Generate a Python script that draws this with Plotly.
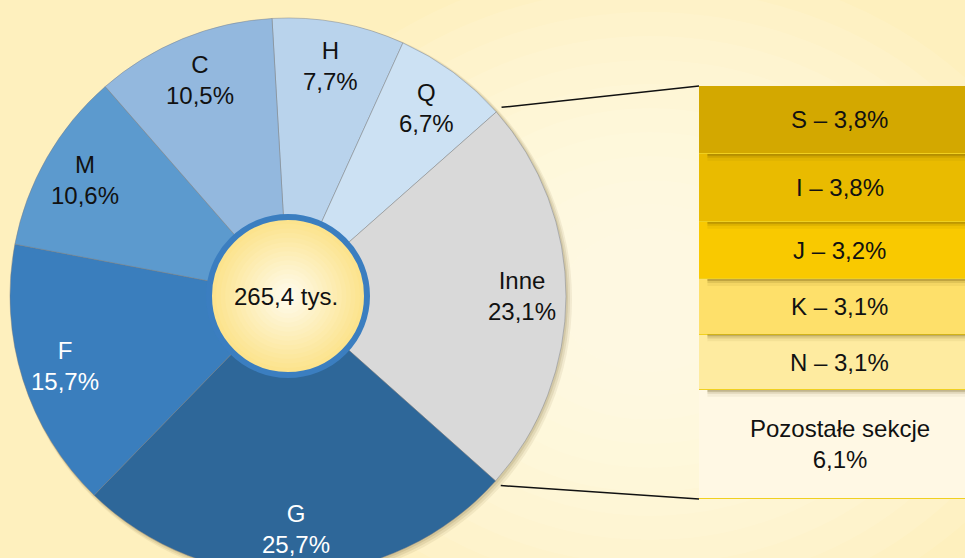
import math
import plotly.graph_objects as go

W, H = 965, 575

# ---------------- data ----------------
pie_labels = ["H", "Q", "Inne", "G", "F", "M", "C"]
pie_values = [7.7, 6.7, 23.1, 25.7, 15.7, 10.6, 10.5]
pie_colors = ["#B9D3EC", "#CCE1F3", "#D9D9D9", "#2E6799", "#3A7EBD", "#5C9ACE", "#93B8DE"]
pie_text_colors = ["#111111", "#111111", "#111111", "#FFFFFF", "#FFFFFF", "#111111", "#111111"]
total_label = "265,4 tys."

bar_labels = ["S", "I", "J", "K", "N", "Pozostałe sekcje"]
bar_values = [3.8, 3.8, 3.2, 3.1, 3.1, 6.1]
bar_colors = ["#D3A800", "#E9BB00", "#F9C900", "#FEE06A", "#FEEBA0", "#FFF8E4"]

FONT = "Liberation Sans, Arial, sans-serif"
FS = 24


def pct(v):
    return f"{v:.1f}%".replace(".", ",")


def px(x):
    return x / W


def py(y):
    return 1 - y / H


# ---------------- geometry ----------------
cx, cy, R = 288, 296, 278
hole_r = 80
rotation = -3.3
bar_left, bar_top, bar_bottom, bar_right_virtual = 699, 86, 499, 980

fig = go.Figure()

# background glow
shapes = []
for k in range(12):
    rr = 420 - k * 30
    shapes.append(dict(type="circle", xref="paper", yref="paper", layer="below",
                       x0=px(650 - rr), x1=px(650 + rr), y0=py(300 + rr * 0.8), y1=py(300 - rr * 0.8),
                       fillcolor="rgba(255,252,242,0.12)", line=dict(width=0)))
# pie soft shadow
for d, op in [(6, 0.10), (4, 0.14), (2, 0.18)]:
    shapes.append(dict(type="circle", xref="paper", yref="paper", layer="below",
                       x0=px(cx - R + 1), x1=px(cx + R + d), y0=py(cy + R + d), y1=py(cy - R + 1),
                       fillcolor=f"rgba(140,120,70,{op})", line=dict(width=0)))

fig.add_trace(go.Pie(
    labels=pie_labels, values=pie_values, sort=False, direction="clockwise",
    rotation=rotation, hole=hole_r / R, textinfo="none", hoverinfo="label+percent",
    marker=dict(colors=pie_colors, line=dict(color="rgba(120,125,130,0.45)", width=1)),
    domain=dict(x=[px(cx - R), px(cx + R)], y=[py(cy + R), py(cy - R)]),
    showlegend=False,
))

# pie labels
tot = sum(pie_values)
cum = 0
annotations = []
for lab, v, tc in zip(pie_labels, pie_values, pie_text_colors):
    mid = rotation + (cum + v / 2) / tot * 360
    cum += v
    rr = R * 0.84
    x = cx + rr * math.sin(math.radians(mid))
    y = cy - rr * math.cos(math.radians(mid))
    annotations.append(dict(xref="paper", yref="paper", x=px(x), y=py(y), showarrow=False,
                            text=f"{lab}<br>{pct(v)}", font=dict(family=FONT, size=FS, color=tc),
                            xanchor="center", yanchor="middle"))

# stacked bar
for lab, v, c in zip(bar_labels, bar_values, bar_colors):
    fig.add_trace(go.Bar(x=[0], y=[v], width=1, marker=dict(color=c, line=dict(color="#F0D020", width=1)),
                         name=lab, showlegend=False, hoverinfo="name+y"))

bar_total = sum(bar_values)
cum = 0
for i, (lab, v) in enumerate(zip(bar_labels, bar_values)):
    if lab.startswith("Pozosta"):
        t = f"{lab}<br>{pct(v)}"
    else:
        t = f"{lab} – {pct(v)}"
    annotations.append(dict(xref="x", yref="y", x=0, y=cum + v / 2, text=t, showarrow=False,
                            xanchor="center", yanchor="middle",
                            font=dict(family=FONT, size=FS, color="#111111")))
    cum += v
    # drop shadow cast by the segment above onto the next one
    if i < len(bar_values) - 1:
        for d, op in [(0.10, 0.24), (0.22, 0.13), (0.38, 0.06)]:
            shapes.append(dict(type="rect", xref="x", yref="y", layer="above",
                               x0=-0.47, x1=0.6, y0=cum, y1=cum + d,
                               fillcolor=f"rgba(90,70,0,{op})", line=dict(width=0)))
# shadow under the last segment
for d, op in [(0.10, 0.22), (0.22, 0.12), (0.36, 0.06)]:
    shapes.append(dict(type="rect", xref="x", yref="y", layer="below",
                       x0=-0.47, x1=0.6, y0=bar_total, y1=bar_total + d,
                       fillcolor=f"rgba(90,70,0,{op})", line=dict(width=0)))

annotations.append(dict(xref="paper", yref="paper", x=px(cx - 2), y=py(cy), text=total_label, showarrow=False,
                        xanchor="center", yanchor="middle",
                        font=dict(family=FONT, size=FS, color="#111111")))

# leader lines
inne_idx = pie_labels.index("Inne")
a_start = rotation + sum(pie_values[:inne_idx]) / tot * 360
a_end = a_start + pie_values[inne_idx] / tot * 360
for a, by in [(a_start, bar_top), (a_end, bar_bottom)]:
    r2 = R * 1.025
    x0 = cx + r2 * math.sin(math.radians(a))
    y0 = cy - r2 * math.cos(math.radians(a))
    shapes.append(dict(type="line", xref="paper", yref="paper", x0=px(x0), y0=py(y0), x1=px(bar_left), y1=py(by),
                       line=dict(color="#111111", width=1.5), layer="above"))

# centre circle with radial gradient
n = 18
c_edge = (252, 226, 135)
c_mid = (255, 252, 238)
for i in range(n):
    f = i / (n - 1)
    rr = (hole_r + 1) * (1 - f) + 4 * f
    col = tuple(int(c_edge[k] + (c_mid[k] - c_edge[k]) * f) for k in range(3))
    shapes.append(dict(type="circle", xref="paper", yref="paper", layer="above",
                       x0=px(cx - rr), x1=px(cx + rr), y0=py(cy + rr), y1=py(cy - rr),
                       fillcolor=f"rgb{col}", line=dict(width=0)))
shapes.append(dict(type="circle", xref="paper", yref="paper", layer="above",
                   x0=px(cx - hole_r + 1), x1=px(cx + hole_r - 1), y0=py(cy + hole_r - 1), y1=py(cy - hole_r + 1),
                   line=dict(color="#3B7EC0", width=6)))

fig.update_layout(
    width=W, height=H, margin=dict(l=0, r=0, t=0, b=0),
    paper_bgcolor="#FEF0BE", plot_bgcolor="rgba(0,0,0,0)",
    barmode="stack", bargap=0,
    xaxis=dict(domain=[px(bar_left), 1], range=[-0.5, -0.5 + (W - bar_left) / (bar_right_virtual - bar_left)],
               visible=False, fixedrange=True),
    yaxis=dict(domain=[py(bar_bottom), py(bar_top)], range=[bar_total, 0], visible=False, fixedrange=True),
    shapes=shapes, annotations=annotations,
    font=dict(family=FONT),
)

fig.write_html("out.html", config={"displayModeBar": False},
               post_script="document.documentElement.style.overflow='hidden';document.body.style.overflow='hidden';document.body.style.margin='0';")
